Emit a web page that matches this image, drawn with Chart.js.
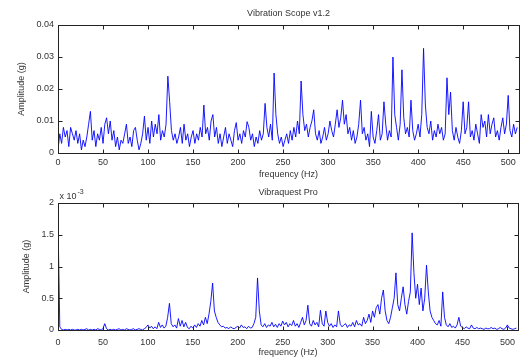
<!DOCTYPE html>
<html>
<head>
<meta charset="utf-8">
<script src="https://cdn.jsdelivr.net/npm/chart.js@4.4.1/dist/chart.umd.min.js"></script>
<style>
  html, body { margin: 0; padding: 0; background: #fff; }
  #wrap { position: relative; width: 522px; height: 360px; }
  canvas { position: absolute; left: 0; }
</style>
</head>
<body>
<div id="wrap">
  <canvas id="c1" width="522" height="180" style="top:0"></canvas>
  <canvas id="c2" width="522" height="180" style="top:180px"></canvas>
</div>
<script>
// ---- data (frequency bins every 2 Hz, 0..510 Hz) ----
const binWidthHz = 2;
const xTickValues = [0, 50, 100, 150, 200, 250, 300, 350, 400, 450, 500];
const topYTicks = [0, 0.01, 0.02, 0.03, 0.04];
const bottomYTicks = [0, 0.5, 1, 1.5, 2];

// Vibration Scope v1.2 amplitude (g)
const vibrationScope = [
  0.001,0.006,0.003,0.008,0.005,0.007,0.002,0.008,0.006,0.004,
  0.007,0.003,0.006,0.001,0.004,0.002,0.005,0.009,0.013,0.004,
  0.007,0.002,0.006,0.004,0.008,0.003,0.009,0.011,0.006,0.010,
  0.004,0.007,0.002,0.005,0.001,0.004,0.003,0.006,0.009,0.003,
  0.005,0.002,0.007,0.008,0.004,0.001,0.003,0.006,0.0115,0.004,
  0.008,0.003,0.010,0.005,0.009,0.006,0.012,0.004,0.007,0.005,
  0.009,0.024,0.016,0.007,0.004,0.006,0.003,0.005,0.008,0.003,
  0.009,0.004,0.006,0.002,0.005,0.007,0.003,0.006,0.004,0.008,
  0.005,0.015,0.006,0.008,0.004,0.010,0.012,0.005,0.008,0.003,
  0.006,0.002,0.005,0.008,0.003,0.006,0.004,0.002,0.007,0.0095,
  0.004,0.006,0.003,0.007,0.005,0.0098,0.008,0.004,0.006,0.002,
  0.005,0.003,0.007,0.004,0.006,0.0155,0.008,0.005,0.009,0.004,
  0.025,0.012,0.006,0.003,0.005,0.002,0.004,0.006,0.003,0.007,
  0.004,0.008,0.005,0.010,0.006,0.0225,0.012,0.007,0.009,0.005,
  0.008,0.010,0.0135,0.006,0.004,0.007,0.003,0.005,0.008,0.004,
  0.006,0.010,0.007,0.005,0.009,0.0135,0.008,0.011,0.0165,0.009,
  0.012,0.006,0.008,0.004,0.007,0.003,0.005,0.009,0.0165,0.006,
  0.008,0.004,0.006,0.002,0.013,0.005,0.003,0.007,0.012,0.004,
  0.006,0.016,0.009,0.004,0.007,0.005,0.030,0.012,0.008,0.004,
  0.009,0.026,0.011,0.006,0.008,0.005,0.0165,0.007,0.004,0.006,
  0.009,0.005,0.012,0.0327,0.015,0.008,0.006,0.010,0.004,0.007,
  0.005,0.009,0.006,0.008,0.004,0.006,0.0235,0.012,0.019,0.007,
  0.004,0.008,0.005,0.003,0.007,0.016,0.006,0.008,0.016,0.005,
  0.007,0.004,0.009,0.006,0.003,0.012,0.008,0.010,0.005,0.012,
  0.006,0.009,0.011,0.005,0.007,0.004,0.008,0.011,0.006,0.009,
  0.018,0.007,0.005,0.009,0.006,0.008
];

// Vibraquest Pro amplitude (g), in units of 1e-3
const vibraquest = [
  1.7,0.05,0.01,0.0,0.01,0.0,0.01,0.0,0.01,0.0,
  0.0,0.01,0.0,0.01,0.0,0.01,0.02,0.0,0.01,0.0,
  0.01,0.0,0.02,0.01,0.0,0.02,0.1,0.02,0.0,0.01,
  0.0,0.01,0.0,0.01,0.02,0.0,0.01,0.0,0.02,0.01,
  0.0,0.01,0.02,0.0,0.01,0.02,0.01,0.0,0.02,0.04,
  0.08,0.03,0.06,0.02,0.05,0.02,0.12,0.04,0.08,0.03,
  0.06,0.2,0.42,0.1,0.05,0.08,0.03,0.18,0.06,0.15,
  0.05,0.12,0.04,0.02,0.06,0.03,0.08,0.04,0.1,0.06,
  0.15,0.08,0.2,0.1,0.25,0.45,0.74,0.3,0.2,0.12,
  0.08,0.05,0.06,0.03,0.04,0.02,0.05,0.03,0.02,0.04,
  0.06,0.03,0.08,0.04,0.05,0.02,0.06,0.03,0.04,0.1,
  0.2,0.82,0.3,0.08,0.05,0.1,0.04,0.08,0.06,0.12,
  0.05,0.09,0.04,0.1,0.06,0.14,0.08,0.12,0.05,0.1,
  0.07,0.15,0.06,0.1,0.04,0.12,0.2,0.08,0.15,0.39,
  0.1,0.06,0.15,0.08,0.12,0.05,0.31,0.1,0.06,0.3,
  0.12,0.06,0.1,0.04,0.08,0.05,0.3,0.09,0.05,0.08,
  0.1,0.04,0.08,0.06,0.12,0.05,0.15,0.08,0.1,0.06,
  0.2,0.1,0.15,0.25,0.12,0.3,0.2,0.35,0.4,0.25,
  0.5,0.63,0.3,0.15,0.1,0.2,0.35,0.5,0.9,0.4,
  0.3,0.5,0.68,0.4,0.25,0.45,0.6,1.53,0.9,0.5,
  0.72,0.4,0.66,0.3,0.5,1.02,0.6,0.3,0.2,0.15,
  0.1,0.08,0.15,0.06,0.6,0.2,0.08,0.05,0.1,0.04,
  0.06,0.03,0.08,0.2,0.06,0.04,0.02,0.05,0.03,0.02,
  0.08,0.03,0.02,0.04,0.02,0.03,0.02,0.01,0.03,0.02,
  0.02,0.04,0.02,0.03,0.01,0.02,0.04,0.02,0.01,0.03,
  0.08,0.03,0.02,0.01,0.02,0.03
];

// ---- rendering ----
const FONT = '"Liberation Sans", Arial, sans-serif';
const TEXT = '#333';

const matlabFrame = {
  id: 'matlabFrame',
  afterDraw(chart, args, opts) {
    const {ctx, chartArea: a, scales} = chart;
    const L = Math.round(a.left) + 0.5, R = Math.round(a.right) + 0.5;
    const T = Math.round(a.top) + 0.5, B = Math.round(a.bottom) + 0.5;
    ctx.save();
    ctx.strokeStyle = '#222';
    ctx.lineWidth = 1;
    ctx.strokeRect(L, T, R - L, B - T);
    ctx.beginPath();
    const tl = 4;
    scales.x.ticks.forEach(t => {
      const px = Math.round(scales.x.getPixelForValue(t.value)) + 0.5;
      ctx.moveTo(px, B); ctx.lineTo(px, B - tl);
      ctx.moveTo(px, T); ctx.lineTo(px, T + tl);
    });
    scales.y.ticks.forEach(t => {
      const py = Math.round(scales.y.getPixelForValue(t.value)) + 0.5;
      ctx.moveTo(L, py); ctx.lineTo(L + tl, py);
      ctx.moveTo(R, py); ctx.lineTo(R - tl, py);
    });
    ctx.stroke();
    if (opts && opts.exponent) {
      ctx.fillStyle = TEXT;
      ctx.textBaseline = 'alphabetic';
      ctx.textAlign = 'left';
      ctx.font = '9px ' + FONT;
      ctx.fillText('x 10', L + 1, T - 5);
      const w = ctx.measureText('x 10').width;
      ctx.font = '7px ' + FONT;
      ctx.fillText(opts.exponent, L + 1 + w + 1, T - 10);
    }
    ctx.restore();
  }
};

function makeChart(id, values, cfg) {
  const points = values.map((v, i) => ({x: i * binWidthHz, y: v}));
  return new Chart(document.getElementById(id), {
    type: 'line',
    data: { datasets: [{
      data: points,
      borderColor: 'rgb(0,0,255)',
      borderWidth: 0.9,
      pointRadius: 0,
      tension: 0,
      fill: false
    }]},
    options: {
      responsive: false,
      animation: false,
      devicePixelRatio: 1,
      parsing: false,
      normalized: true,
      layout: { padding: { left: 0, right: 3, top: 0, bottom: 0 } },
      plugins: {
        legend: { display: false },
        tooltip: { enabled: false },
        title: {
          display: true,
          text: cfg.title,
          fullSize: false,
          color: TEXT,
          font: { family: FONT, size: 9, weight: 'normal' },
          padding: { top: cfg.titleTop, bottom: cfg.titleBottom }
        },
        matlabFrame: { exponent: cfg.exponent || null }
      },
      scales: {
        x: {
          type: 'linear',
          min: 0, max: 512,
          afterFit: s => { s.height = cfg.xHeight; },
          afterBuildTicks: s => { s.ticks = xTickValues.map(v => ({value: v})); },
          grid: { display: false, drawTicks: false },
          border: { display: false },
          ticks: {
            padding: cfg.xTickPad,
            maxRotation: 0,
            autoSkip: false,
            color: TEXT,
            font: { family: FONT, size: 9 },
            callback: v => String(v)
          },
          title: {
            display: true,
            text: 'frequency (Hz)',
            color: TEXT,
            font: { family: FONT, size: 9 },
            padding: { top: 0, bottom: cfg.xTitlePad }
          }
        },
        y: {
          type: 'linear',
          min: cfg.yTicks[0], max: cfg.yTicks[cfg.yTicks.length - 1],
          afterFit: s => { s.width = 58; },
          afterBuildTicks: s => { s.ticks = cfg.yTicks.map(v => ({value: v})); },
          grid: { display: false, drawTicks: false },
          border: { display: false },
          ticks: {
            padding: 4,
            autoSkip: false,
            color: TEXT,
            font: { family: FONT, size: 9 },
            callback: v => String(+v.toFixed(3))
          },
          title: {
            display: true,
            text: 'Amplitude (g)',
            color: TEXT,
            font: { family: FONT, size: 9 },
            padding: { top: cfg.yTitlePad, bottom: 0 }
          }
        }
      }
    },
    plugins: [matlabFrame]
  });
}

makeChart('c1', vibrationScope, {
  title: 'Vibration Scope v1.2',
  titleTop: 8.6, titleBottom: 5.6,
  xHeight: 27, xTickPad: 4, xTitlePad: 0,
  yTicks: topYTicks, yTitlePad: 16.6
});
makeChart('c2', vibraquest, {
  title: 'Vibraquest Pro',
  titleTop: 7.6, titleBottom: 4.6,
  xHeight: 30, xTickPad: 7, xTitlePad: 1.6,
  yTicks: bottomYTicks, yTitlePad: 21.6,
  exponent: '-3'
});
</script>
</body>
</html>
